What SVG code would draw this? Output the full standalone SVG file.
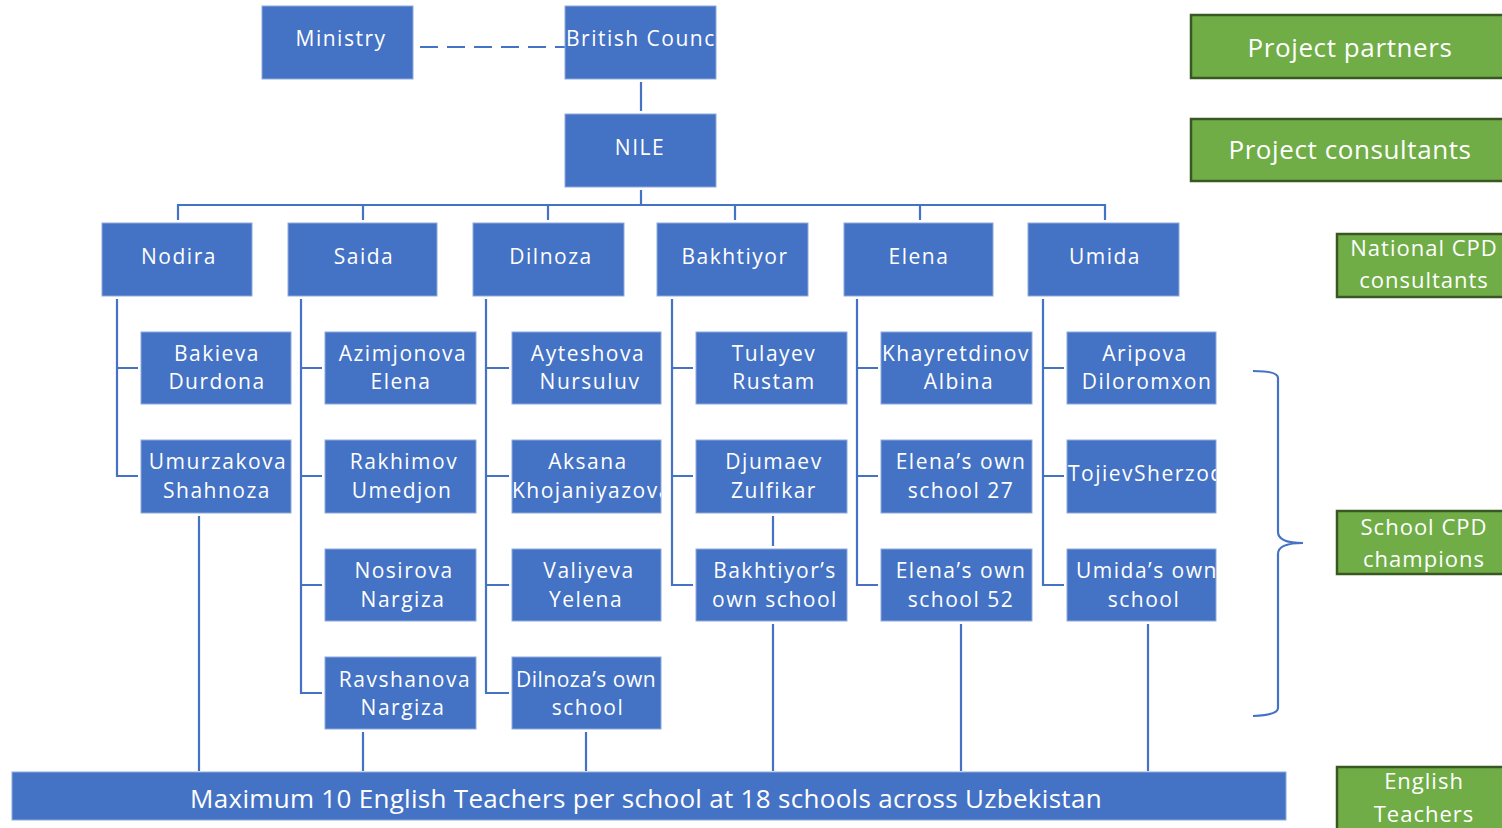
<svg xmlns="http://www.w3.org/2000/svg" width="1502" height="828" viewBox="0 0 1502 828">
<style>
.b{fill:#4472C4;stroke:#8FAADC;stroke-width:1}
.g{fill:#70AD47;stroke:#385723;stroke-width:2.5}
.t{font-family:"Open Sans","Liberation Sans",sans-serif;font-size:21px;fill:#fff;text-anchor:middle;letter-spacing:1.5px}
.ts{font-family:"Open Sans","Liberation Sans",sans-serif;font-size:21px;fill:#fff;letter-spacing:1.5px}
.tg{font-family:"Open Sans","Liberation Sans",sans-serif;font-size:26px;fill:#fff;text-anchor:middle;letter-spacing:0.6px}
.tg2{font-family:"Open Sans","Liberation Sans",sans-serif;font-size:22px;fill:#fff;text-anchor:middle;letter-spacing:1px}
.l{stroke:#4472C4;stroke-width:2.2;fill:none}
</style>
<defs>
<clipPath id="cBC"><rect x="565" y="6" width="151" height="73"/></clipPath>
<clipPath id="cAK"><rect x="512" y="440" width="149" height="73"/></clipPath>
<clipPath id="cKH"><rect x="881" y="332" width="151" height="72"/></clipPath>
<clipPath id="cAR"><rect x="1067" y="332" width="149" height="72"/></clipPath>
<clipPath id="cTJ"><rect x="1067" y="440" width="149" height="73"/></clipPath>
<clipPath id="cUM"><rect x="1067" y="549" width="149" height="72"/></clipPath>
</defs>
<g id="connectors">
<line class="l" x1="420" y1="47" x2="565" y2="47" stroke-dasharray="18,9"/>
<line class="l" x1="641" y1="82" x2="641" y2="111"/>
<line class="l" x1="641" y1="190" x2="641" y2="205"/>
<polyline class="l" points="178,220 178,205 1105,205 1105,220"/>
<line class="l" x1="363" y1="205" x2="363" y2="220"/>
<line class="l" x1="548" y1="205" x2="548" y2="220"/>
<line class="l" x1="735" y1="205" x2="735" y2="220"/>
<line class="l" x1="920" y1="205" x2="920" y2="220"/>
<path class="l" d="M117,299V476H138M117,368H138"/>
<path class="l" d="M301,299V693H322M301,368H322M301,476H322M301,585H322"/>
<path class="l" d="M486,299V693H509M486,368H509M486,476H509M486,585H509"/>
<path class="l" d="M672,299V585H693M672,368H693M672,476H693"/>
<path class="l" d="M857,299V585H878M857,368H878M857,476H878"/>
<path class="l" d="M1043,299V585H1064M1043,368H1064M1043,476H1064"/>
<line class="l" x1="773" y1="516" x2="773" y2="546"/>
<line class="l" x1="199" y1="516" x2="199" y2="771"/>
<line class="l" x1="363" y1="732" x2="363" y2="771"/>
<line class="l" x1="586" y1="732" x2="586" y2="771"/>
<line class="l" x1="773" y1="624" x2="773" y2="771"/>
<line class="l" x1="961" y1="624" x2="961" y2="771"/>
<line class="l" x1="1148" y1="624" x2="1148" y2="771"/>
<path class="l" d="M1253,371Q1278,371 1278,378V532Q1278,543 1303,543Q1278,543 1278,554V708Q1278,715 1253,716"/>
</g>
<g id="ministry"><rect class="b" x="262" y="6" width="151" height="73"/><text class="t" x="341" y="46">Ministry</text></g>
<g id="british-council"><rect class="b" x="565" y="6" width="151" height="73"/><text class="ts" x="566" y="46" clip-path="url(#cBC)">British Council</text></g>
<g id="nile"><rect class="b" x="565" y="114" width="151" height="73"/><text class="t" x="640" y="155">NILE</text></g>
<g id="nodira"><rect class="b" x="102" y="223" width="150" height="73"/><text class="t" x="179" y="264">Nodira</text></g>
<g id="saida"><rect class="b" x="288" y="223" width="149" height="73"/><text class="t" x="364" y="264">Saida</text></g>
<g id="dilnoza"><rect class="b" x="473" y="223" width="151" height="73"/><text class="t" x="551" y="264">Dilnoza</text></g>
<g id="bakhtiyor"><rect class="b" x="657" y="223" width="151" height="73"/><text class="t" x="735" y="264">Bakhtiyor</text></g>
<g id="elena"><rect class="b" x="844" y="223" width="149" height="73"/><text class="t" x="919" y="264">Elena</text></g>
<g id="umida"><rect class="b" x="1028" y="223" width="151" height="73"/><text class="t" x="1105" y="264">Umida</text></g>
<g id="bakieva"><rect class="b" x="141" y="332" width="150" height="72"/><text class="t" x="217" y="361">Bakieva</text><text class="t" x="217" y="389">Durdona</text></g>
<g id="umurzakova"><rect class="b" x="141" y="440" width="150" height="73"/><text class="t" x="218" y="469">Umurzakova</text><text class="t" x="217" y="498">Shahnoza</text></g>
<g id="azimjonova"><rect class="b" x="325" y="332" width="151" height="72"/><text class="t" x="403" y="361">Azimjonova</text><text class="t" x="401" y="389">Elena</text></g>
<g id="rakhimov"><rect class="b" x="325" y="440" width="151" height="73"/><text class="t" x="404" y="469">Rakhimov</text><text class="t" x="402" y="498">Umedjon</text></g>
<g id="nosirova"><rect class="b" x="325" y="549" width="151" height="72"/><text class="t" x="404" y="578">Nosirova</text><text class="t" x="403" y="607">Nargiza</text></g>
<g id="ravshanova"><rect class="b" x="325" y="657" width="151" height="72"/><text class="t" x="405" y="687">Ravshanova</text><text class="t" x="403" y="715">Nargiza</text></g>
<g id="ayteshova"><rect class="b" x="512" y="332" width="149" height="72"/><text class="t" x="588" y="361">Ayteshova</text><text class="t" x="590" y="389">Nursuluv</text></g>
<g id="aksana"><rect class="b" x="512" y="440" width="149" height="73"/><text class="t" x="588" y="469">Aksana</text><text class="ts" x="512" y="498" clip-path="url(#cAK)">Khojaniyazova</text></g>
<g id="valiyeva"><rect class="b" x="512" y="549" width="149" height="72"/><text class="t" x="589" y="578">Valiyeva</text><text class="t" x="586" y="607">Yelena</text></g>
<g id="dilnoza-school"><rect class="b" x="512" y="657" width="149" height="72"/><text class="t" x="586" y="687" style="letter-spacing:0.5px">Dilnoza’s own</text><text class="t" x="588" y="715">school</text></g>
<g id="tulayev"><rect class="b" x="696" y="332" width="151" height="72"/><text class="t" x="774" y="361">Tulayev</text><text class="t" x="774" y="389">Rustam</text></g>
<g id="djumaev"><rect class="b" x="696" y="440" width="151" height="73"/><text class="t" x="774" y="469">Djumaev</text><text class="t" x="774" y="498">Zulfikar</text></g>
<g id="bakhtiyor-school"><rect class="b" x="696" y="549" width="151" height="72"/><text class="t" x="775" y="578">Bakhtiyor’s</text><text class="t" x="775" y="607">own school</text></g>
<g id="khayretdinov"><rect class="b" x="881" y="332" width="151" height="72"/><text class="ts" x="882" y="361" clip-path="url(#cKH)">Khayretdinov</text><text class="t" x="959" y="389">Albina</text></g>
<g id="elena-27"><rect class="b" x="881" y="440" width="151" height="73"/><text class="t" x="961" y="469">Elena’s own</text><text class="t" x="961" y="498">school 27</text></g>
<g id="elena-52"><rect class="b" x="881" y="549" width="151" height="72"/><text class="t" x="961" y="578">Elena’s own</text><text class="t" x="961" y="607">school 52</text></g>
<g id="aripova"><rect class="b" x="1067" y="332" width="149" height="72"/><text class="t" x="1145" y="361">Aripova</text><text class="t" x="1147" y="389" clip-path="url(#cAR)">Diloromxon</text></g>
<g id="tojiev"><rect class="b" x="1067" y="440" width="149" height="73"/><text class="ts" x="1068" y="481" clip-path="url(#cTJ)">TojievSherzod</text></g>
<g id="umida-school"><rect class="b" x="1067" y="549" width="149" height="72"/><text class="ts" x="1076" y="578" clip-path="url(#cUM)">Umida’s own</text><text class="t" x="1144" y="607">school</text></g>
<g id="teachers-bar"><rect class="b" x="12" y="772" width="1274" height="48"/><text class="t" style="font-size:26px;letter-spacing:0.3px" x="646" y="808">Maximum 10 English Teachers per school at 18 schools across Uzbekistan</text></g>
<g id="legend-partners"><rect class="g" x="1191" y="15" width="320" height="63"/><text class="tg" x="1350" y="57">Project partners</text></g>
<g id="legend-consultants"><rect class="g" x="1191" y="119" width="320" height="62"/><text class="tg" x="1350" y="159">Project consultants</text></g>
<g id="legend-national"><rect class="g" x="1337" y="234" width="175" height="63"/><text class="tg2" x="1424" y="256">National CPD</text><text class="tg2" x="1424" y="288">consultants</text></g>
<g id="legend-school"><rect class="g" x="1337" y="511" width="175" height="63"/><text class="tg2" x="1424" y="535">School CPD</text><text class="tg2" x="1424" y="567">champions</text></g>
<g id="legend-english"><rect class="g" x="1337" y="767" width="175" height="70"/><text class="tg2" x="1424" y="789">English</text><text class="tg2" x="1424" y="822">Teachers</text></g>
</svg>
